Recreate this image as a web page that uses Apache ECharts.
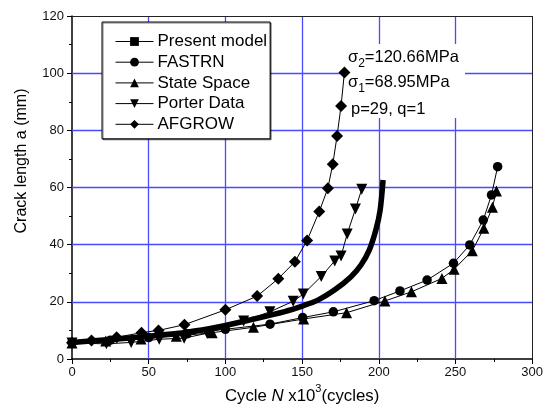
<!DOCTYPE html>
<html>
<head>
    <meta charset="utf-8">
    <title>ECharts</title>
    <script src="https://cdn.jsdelivr.net/npm/echarts@6/dist/echarts.min.js"></script>
</head>
<body style='background-color: #fff;margin:0px;'>
    <div id="main" style="width: 546px;height:414px;"></div>
    <script type="text/javascript">
        // cycles (x10^3) and crack length a (mm)
        var modelN = [0, 25, 50, 75, 96, 117, 138.7, 150, 160.3, 171.1, 181.9, 188.4, 193.8, 198.1, 200.9, 202.8];
        var modelA = [5.8, 6.8, 8.0, 9.4, 11.3, 13.8, 16.6, 18.5, 20.6, 24.1, 28.8, 32.9, 38.1, 45.1, 52.1, 62.6];

        var fastrnN = [0, 25, 50, 75, 100, 129.1, 150.4, 170.4, 197, 213.8, 231.5, 248.7, 259.3, 268.1, 273.5, 277.5];
        var fastrnA = [5.8, 6.6, 7.5, 8.8, 10.4, 12.2, 14.5, 16.5, 20.4, 23.8, 27.6, 33.5, 39.9, 48.6, 57.4, 67.3];

        var stateN = [0, 22, 45, 68, 91.4, 118.3, 151, 179, 204, 221.3, 241.2, 249.1, 261, 268.5, 274.1, 276.7];
        var stateA = [5.6, 6.3, 7.0, 8.0, 9.2, 11.1, 14.0, 16.2, 20.3, 23.5, 28.2, 31.4, 37.9, 45.7, 53.1, 58.8];

        var porterN = [0, 22.4, 38.6, 56.9, 73.1, 88.1, 111.9, 129, 144.2, 150.8, 162.5, 171.3, 175.4, 179.4, 184.8, 188.9];
        var porterA = [5.6, 5.3, 5.8, 6.9, 7.3, 9.0, 13.3, 16.5, 20.2, 22.7, 28.9, 34.3, 36.0, 43.7, 52.5, 59.4];

        var afgrowN = [0, 12.7, 29.1, 45.3, 56.4, 73.3, 100, 120.7, 134.5, 145.3, 153.3, 161.2, 166.8, 170, 172.8, 175.4, 177.6];
        var afgrowA = [5.7, 6.5, 7.6, 9.2, 10.0, 12.0, 17.2, 22.0, 28.1, 34.0, 41.5, 51.6, 59.7, 68.1, 78.0, 88.5, 100.2];

        var seriesNames = ['Present model', 'FASTRN', 'State Space', 'Porter Data', 'AFGROW'];

        // grid line positions (same as the major ticks) and the frame on top/right
        var gridX = [50, 100, 150, 200, 250];
        var gridY = [20, 40, 60, 80, 100];
        var frameX = [300];
        var frameY = [120];

        var font = 'Liberation Sans, Arial, sans-serif';

        function pairs(xs, ys) {
            var out = [];
            for (var i = 0; i < xs.length; i++) {
                out.push([xs[i], ys[i]]);
            }
            return out;
        }

        function refLines(xs, ys) {
            return xs.map(function (v) { return { xAxis: v }; })
                .concat(ys.map(function (v) { return { yAxis: v }; }));
        }

        function lineLayer(xs, ys, color, width, z) {
            return {
                type: 'line',
                data: [],
                z: z,
                silent: true,
                markLine: {
                    z: z,
                    silent: true,
                    symbol: 'none',
                    label: { show: false },
                    lineStyle: { color: color, width: width, type: 'solid' },
                    emphasis: { disabled: true },
                    data: refLines(xs, ys)
                }
            };
        }

        function markerSeries(name, xs, ys, symbol, size, rotate) {
            return {
                name: name,
                type: 'line',
                data: pairs(xs, ys),
                symbol: symbol,
                symbolSize: size,
                symbolRotate: rotate || 0,
                z: 3,
                lineStyle: { color: '#000', width: 1 },
                itemStyle: { color: '#000' }
            };
        }

        var myChart = echarts.init(document.getElementById('main'));

        var subRich = { fontSize: 12, fill: '#000', fontFamily: font, verticalAlign: 'bottom', lineHeight: 25 };

        var option = {
            animation: false,
            backgroundColor: '#fff',
            textStyle: { fontFamily: font },
            grid: {
                left: 72, right: 10, top: 16, bottom: 55,
                show: false
            },
            legend: {
                orient: 'vertical',
                left: 102, top: 22,
                z: 10,
                padding: [11, 3, 6, 13],
                itemWidth: 38, itemHeight: 11,
                itemGap: 3.7,
                backgroundColor: '#fff',
                borderColor: '#000', borderWidth: 1,
                shadowColor: 'rgba(0,0,0,0.5)', shadowOffsetX: 1, shadowOffsetY: 1,
                textStyle: { fontSize: 17, color: '#000', fontFamily: font, padding: [0, 0, 0, -1] },
                data: seriesNames.map(function (n) {
                    return { name: n, lineStyle: { width: 1, color: '#000' } };
                })
            },
            xAxis: {
                type: 'value',
                min: 0, max: 300, interval: 50,
                name: '{t|Cycle }{i|N}{t| x10}{sup|3}{t|(cycles)}',
                nameLocation: 'middle',
                nameGap: 21,
                nameTextStyle: {
                    rich: {
                        t: { fontSize: 16.8, color: '#000', fontFamily: font },
                        i: { fontSize: 16.8, color: '#000', fontFamily: font, fontStyle: 'italic' },
                        sup: { fontSize: 11, color: '#000', fontFamily: font, verticalAlign: 'top', lineHeight: 24 }
                    }
                },
                axisLine: { lineStyle: { color: '#000', width: 1.5 } },
                axisTick: { inside: false, length: 5, lineStyle: { color: '#000' } },
                minorTick: { show: true, splitNumber: 2, length: 3, lineStyle: { color: '#000' } },
                axisLabel: { fontSize: 13, color: '#111', margin: 7 },
                splitLine: { show: false }
            },
            yAxis: {
                type: 'value',
                min: 0, max: 120, interval: 20,
                axisLine: { lineStyle: { color: '#000', width: 1.5 } },
                axisTick: { inside: false, length: 5, lineStyle: { color: '#000' } },
                minorTick: { show: true, splitNumber: 2, length: 3, lineStyle: { color: '#000' } },
                axisLabel: { fontSize: 13, color: '#111', margin: 8 },
                splitLine: { show: false }
            },
            graphic: [
                {
                    type: 'text', z: 100, x: 22, y: 161, rotation: Math.PI / 2,
                    style: {
                        text: 'Crack length a (mm)', fontSize: 16, fill: '#000', fontFamily: font,
                        align: 'center', verticalAlign: 'middle'
                    }
                },
                {
                    type: 'rect', z: 2.8,
                    shape: { x: 348, y: 44, width: 117, height: 74 },
                    style: { fill: '#fff' }
                },
                {
                    type: 'text', z: 100, left: 348, top: 49,
                    style: {
                        text: '{m|\u03c3}{s|2}{m|=120.66MPa}',
                        rich: { m: { fontSize: 16.5, fill: '#000', fontFamily: font }, s: subRich }
                    }
                },
                {
                    type: 'text', z: 100, left: 348, top: 74,
                    style: {
                        text: '{m|\u03c3}{s|1}{m|=68.95MPa}',
                        rich: { m: { fontSize: 16.5, fill: '#000', fontFamily: font }, s: subRich }
                    }
                },
                {
                    type: 'text', z: 100, left: 351, top: 101,
                    style: { text: 'p=29, q=1', fontSize: 16.5, fill: '#000', fontFamily: font }
                }
            ],
            series: [
                lineLayer(gridX, gridY, '#4a4aff', 1.3, 2.5),
                lineLayer(frameX, frameY, '#222', 1, 2.6),
                {
                    name: 'Present model',
                    type: 'line',
                    data: pairs(modelN, modelA),
                    smooth: 0.3,
                    symbol: 'rect',
                    showSymbol: false,
                    z: 4,
                    lineStyle: { color: '#000', width: 5.5 },
                    itemStyle: { color: '#000' }
                },
                markerSeries('FASTRN', fastrnN, fastrnA, 'circle', 9.5),
                markerSeries('State Space', stateN, stateA, 'triangle', 11),
                markerSeries('Porter Data', porterN, porterA, 'triangle', 11, 180),
                markerSeries('AFGROW', afgrowN, afgrowA, 'diamond', 12)
            ]
        };

        myChart.setOption(option);
    </script>
</body>
</html>
